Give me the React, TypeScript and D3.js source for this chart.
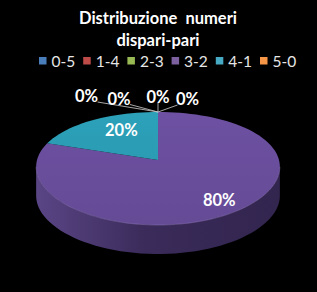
import React from "react";
import * as d3 from "d3";

const categories = ["0-5", "1-4", "2-3", "3-2", "4-1", "5-0"];
const values = [0, 0, 0, 80, 20, 0];
const topColors = ["#3f70b0", "#b5403d", "#8cb04a", "#6b4f9e", "#2b9db5", "#ef8a3a"];
const legendColors = ["#4a7ebb", "#be4b48", "#98b954", "#7d60a0", "#46aac5", "#f79646"];
const sideDark = ["#27466e", "#6e2624", "#55692a", "#3a2b5a", "#1a5e6c", "#8a4d1f"];
const sideLight = ["#35609a", "#953532", "#779140", "#5a4585", "#237f93", "#b86b2c"];
const titleLines = ["Distribuzione  numeri", "dispari-pari"];
// label placement inside slices: [radius fraction, position along slice]
const labelPlacement = [
  [0.7, 0.5],
  [0.7, 0.5],
  [0.7, 0.5],
  [0.8, 0.5],
  [0.66, 0.59],
  [0.7, 0.5],
];
// offsets of the zero-value labels (collision-avoidance layout), relative to the slice tip
const zeroLabelOffsets = [
  [-71.5, -15.5],
  [-39, -13],
  [0, -14.5],
  [29.5, -12.5],
];

const W = 317;
const H = 292;
const cx = 158;
const cy = 160;
const rx = 121;
const ryA = 56.5;
const ryB = 8.5;
const depth = 29;
const font = "Lato, 'Open Sans', sans-serif";

function proj(theta: number, r = 1, dz = 0): [number, number] {
  const u = r * Math.sin(theta);
  const v = -r * Math.cos(theta);
  const s = 1 + 0.12 * v;
  return [cx + rx * u * s, cy + ryA * v + ryB * v * v + dz];
}

function arcPoints(a0: number, a1: number, dz = 0, n = 120): [number, number][] {
  const pts: [number, number][] = [];
  const steps = Math.max(2, Math.ceil((Math.abs(a1 - a0) / (2 * Math.PI)) * n) + 1);
  for (let i = 0; i <= steps; i++) {
    const t = a0 + ((a1 - a0) * i) / steps;
    pts.push(proj(t, 1, dz));
  }
  return pts;
}

export default function App() {
  const pie = d3
    .pie<number>()
    .sort(null)
    .value((d) => d)(values);

  let tR = 0;
  let tL = 0;
  let maxX = -1e9;
  let minX = 1e9;
  for (let i = 0; i < 3600; i++) {
    const t = (i / 3600) * 2 * Math.PI;
    const [x] = proj(t);
    if (x > maxX) {
      maxX = x;
      tR = t;
    }
    if (x < minX) {
      minX = x;
      tL = t;
    }
  }

  const line = d3.line<[number, number]>();
  const tip = proj(0, 0);
  const topPt = proj(0);

  const sides = pie
    .map((p, i) => {
      const a0 = Math.max(p.startAngle, tR);
      const a1 = Math.min(p.endAngle, tL);
      if (a1 <= a0 || p.value === 0) return null;
      const top = arcPoints(a0, a1);
      const bot = arcPoints(a1, a0, depth);
      return { i, d: line([...top, ...bot])! + "Z" };
    })
    .filter(Boolean) as { i: number; d: string }[];

  const tops = pie
    .map((p, i) => {
      if (p.value === 0) return null;
      const pts = [tip, ...arcPoints(p.startAngle, p.endAngle)];
      return { i, d: line(pts)! + "Z" };
    })
    .filter(Boolean) as { i: number; d: string }[];

  const total = d3.sum(values);
  const fmt = (v: number) => `${Math.round((v / total) * 100)}%`;

  const mainLabels = pie
    .map((p, i) => {
      if (p.value === 0) return null;
      const [r, f] = labelPlacement[i];
      const a = p.startAngle + (p.endAngle - p.startAngle) * f;
      const [x, y] = proj(a, r);
      return { i, x, y, text: fmt(p.value) };
    })
    .filter(Boolean) as { i: number; x: number; y: number; text: string }[];

  const zeroIdx = values.map((v, i) => (v === 0 ? i : -1)).filter((i) => i >= 0);

  const legendX = d3
    .scaleLinear()
    .domain([0, categories.length - 1])
    .range([39, 260]);

  return (
    <svg
      width={W}
      height={H}
      style={{ position: "fixed", left: 0, top: 0, background: "#000" }}
    >
      <defs>
        {sides.map((s) => (
          <linearGradient key={s.i} id={`side${s.i}`} x1={cx - rx} x2={cx + rx} y1={0} y2={0} gradientUnits="userSpaceOnUse">
            <stop offset="0" stopColor={sideLight[s.i]} />
            <stop offset="0.45" stopColor={sideDark[s.i]} />
            <stop offset="1" stopColor={d3.color(sideDark[s.i])!.darker(0.4).formatHex()} />
          </linearGradient>
        ))}
        {tops.map((t) => (
          <linearGradient key={t.i} id={`top${t.i}`} x1={0} x2={0} y1={cy - ryA} y2={cy + ryA + ryB} gradientUnits="userSpaceOnUse">
            <stop offset="0" stopColor={d3.color(topColors[t.i])!.brighter(0.08).formatHex()} />
            <stop offset="1" stopColor={d3.color(topColors[t.i])!.darker(0.15).formatHex()} />
          </linearGradient>
        ))}
      </defs>
      <rect width={W} height={H} fill="#000" />
      {titleLines.map((t, k) => (
        <text
          key={k}
          x={cx}
          y={23.5 + k * 22.5}
          textAnchor="middle"
          fill="#fff"
          fontFamily={font}
          fontWeight="bold"
          fontSize={16.5}
          style={{ whiteSpace: "pre" }}
        >
          {t}
        </text>
      ))}
      {categories.map((c, i) => (
        <g key={c} transform={`translate(${legendX(i)},0)`}>
          <rect x={0} y={57} width={7.5} height={7.5} fill={legendColors[i]} />
          <text x={12.5} y={67} fill="#e6e6e6" fontFamily={font} fontSize={15.5}>
            {c}
          </text>
        </g>
      ))}
      {sides.map((s) => (
        <path key={`s${s.i}`} d={s.d} fill={`url(#side${s.i})`} />
      ))}
      {tops.map((t) => (
        <path key={`t${t.i}`} d={t.d} fill={`url(#top${t.i})`} />
      ))}
      <path
        d={line(arcPoints(tR, tL))!}
        fill="none"
        stroke="#8b74b5"
        strokeOpacity={0.5}
        strokeWidth={1}
      />
      {mainLabels.map((l) => (
        <text
          key={`l${l.i}`}
          x={l.x}
          y={l.y}
          dy="0.36em"
          textAnchor="middle"
          fill="#fff"
          fontFamily={font}
          fontWeight="bold"
          fontSize={16.5}
        >
          {l.text}
        </text>
      ))}
      {zeroIdx.map((ci, k) => {
        const [ox, oy] = zeroLabelOffsets[k];
        const lx = topPt[0] + ox;
        const ly = topPt[1] + oy;
        const ax = ox < -5 ? lx + 11 : ox > 5 ? lx - 10 : lx;
        return (
          <g key={`z${ci}`}>
            <line x1={ax} y1={ly + 5.5} x2={topPt[0]} y2={topPt[1]} stroke="#d0d0d0" strokeWidth={0.8} />
            <text
              x={lx}
              y={ly}
              dy="0.36em"
              textAnchor="middle"
              fill="#fff"
              fontFamily={font}
              fontWeight="bold"
              fontSize={16.5}
            >
              {fmt(values[ci])}
            </text>
          </g>
        );
      })}
    </svg>
  );
}
